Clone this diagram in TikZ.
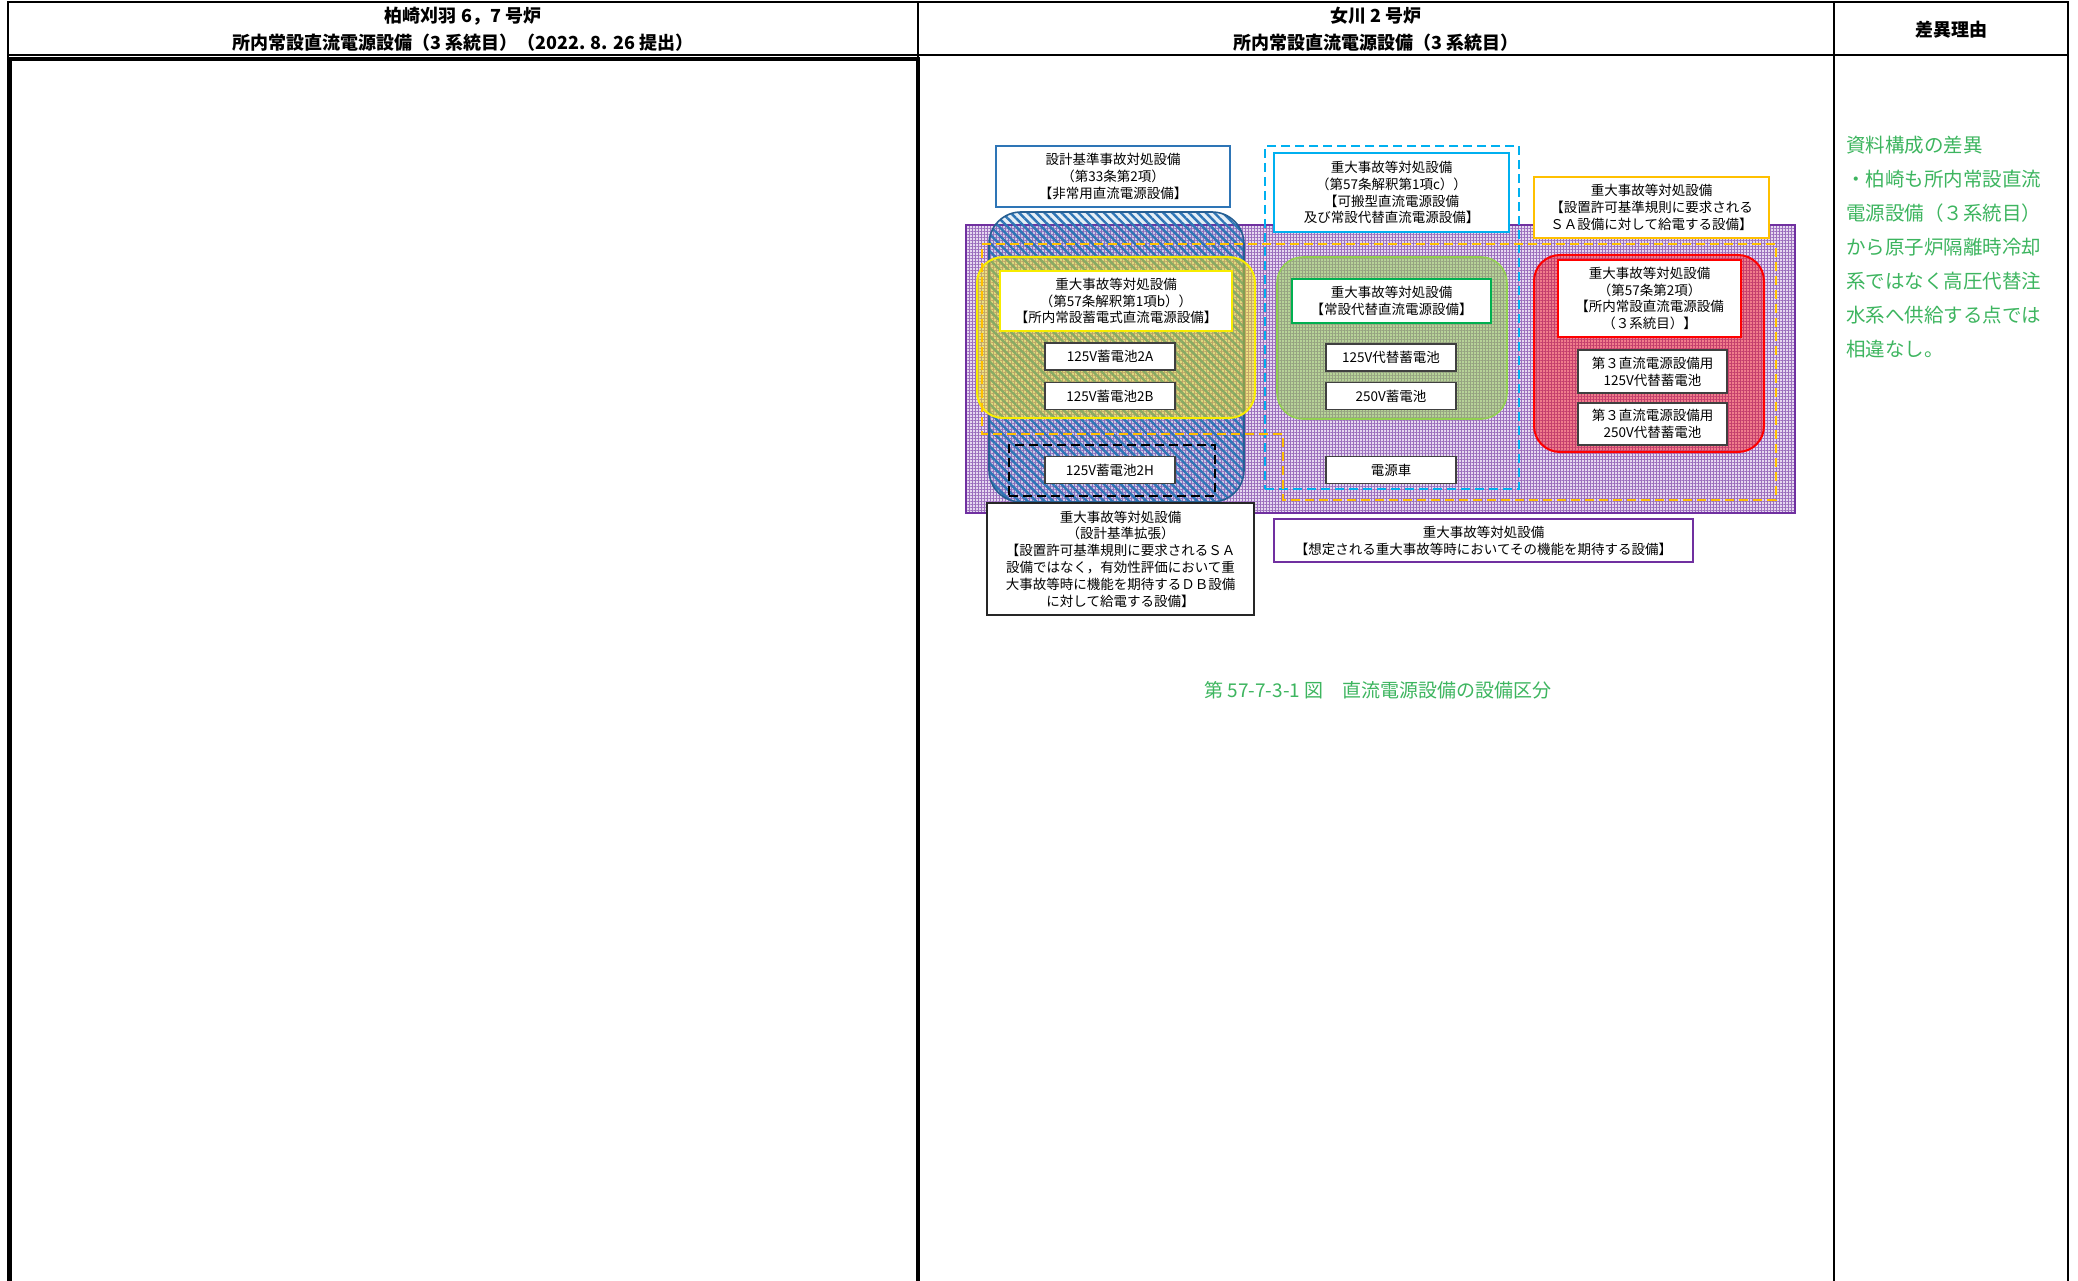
\documentclass[tikz,border=0pt]{standalone}
\usepackage{fontspec}
\setmainfont{Noto Sans CJK JP}
\usetikzlibrary{patterns.meta}

\definecolor{sapurple}{HTML}{7030A0}
\definecolor{lavender}{HTML}{E6D8F0}
\definecolor{dbblue}{HTML}{2E75B6}
\definecolor{pcyan}{HTML}{00B0F0}
\definecolor{saorange}{HTML}{FFC000}
\definecolor{sayellow}{HTML}{F7EC00}
\definecolor{sgreen}{HTML}{00B050}
\definecolor{lgreen}{HTML}{92D050}
\definecolor{capgreen}{HTML}{3DB55F}

\newcommand{\dtxt}{\fontsize{13.5}{16.8}\selectfont}
\newcommand{\htxt}{\fontsize{18}{22}\selectfont\bfseries}
\newcommand{\gtxt}{\fontsize{19.5}{34}\selectfont}

\begin{document}
\begin{tikzpicture}[x=1pt,y=-1pt,align=center,
  lbl/.style={draw, fill=white, line width=2pt, inner sep=0pt, font=\dtxt},
  item/.style={draw=black!75, fill=white, line width=1.4pt, inner sep=0pt, font=\dtxt,
    minimum width=130pt, minimum height=27pt},
  grp/.style={inner sep=0pt, line width=1.6pt, rounded corners=26pt},
  zone/.style={inner sep=0pt, line width=2pt, dash pattern=on 9pt off 5pt},
  note/.style={text=capgreen}]

\useasboundingbox (0,0) rectangle (2078,1281);
\fill[white] (0,0) rectangle (2078,1281);

% table frame
\draw[line width=1.2pt] (8,1290) -- (8,2) -- (2068,2) -- (2068,1290);
\draw[line width=1.2pt] (8,55) -- (2068,55);
\draw[line width=1.2pt] (1834,2) -- (1834,1290);
\draw[line width=4pt] (10,1290) -- (10,59) -- (918,59) -- (918,1290);
\draw[line width=1.2pt] (918,2) -- (918,59);

\node[font=\htxt] (hkk1) at (463,16) {柏崎刈羽 6，7 号炉};
\node[font=\htxt] (hkk2) at (463,43) {所内常設直流電源設備（3 系統目）（2022. 8. 26 提出）};
\node[font=\htxt] (hon1) at (1376,16) {女川 2 号炉};
\node[font=\htxt] (hon2) at (1376,43) {所内常設直流電源設備（3 系統目）};
\node[font=\htxt] (hdiff) at (1951,30) {差異理由};

% regions
\node[inner sep=0pt, draw=sapurple, line width=2pt, minimum width=829pt, minimum height=288pt,
  preaction={fill=lavender},
  pattern={Hatch[angle=0,distance=3pt,line width=0.8pt]}, pattern color=sapurple!70] (sazone) at (1380.5,369) {};
\node[grp, rounded corners=32pt, draw=dbblue!80!black, minimum width=255pt, minimum height=290pt,
  preaction={fill=dbblue, fill opacity=0.12}, fill opacity=0.6,
  pattern={Lines[angle=-45,distance=6pt,line width=2.4pt]}, pattern color=dbblue] (dbgrp) at (1116.5,357) {};
\node[grp, draw=sayellow, line width=2pt, fill=sayellow, fill opacity=0.45,
  minimum width=278pt, minimum height=161pt] (batgrp) at (1116,337.5) {};
\node[grp, draw=lgreen, fill=lgreen, fill opacity=0.55,
  minimum width=230pt, minimum height=162pt] (altgrp) at (1392,338) {};
\node[grp, draw=red, line width=2pt, fill=red, fill opacity=0.42,
  minimum width=230pt, minimum height=197pt] (thirdgrp) at (1649,353.5) {};

\node[zone, draw=pcyan, minimum width=254pt, minimum height=343pt] (portzone) at (1392,317.5) {};
\draw[zone, draw=saorange] (982,244) -- (1776,244) -- (1776,500) -- (1283,500) -- (1283,434) -- (982,434) -- cycle;
\node[zone, draw=black, minimum width=206pt, minimum height=51pt] (extzone) at (1112,470.5) {};

% labels
\node[lbl, draw=dbblue, minimum width=234pt, minimum height=61pt] (dblbl) at (1113,176.5)
  {設計基準事故対処設備\\（第33条第2項）\\【非常用直流電源設備】};
\node[lbl, draw=pcyan, line width=2.5pt, minimum width=235pt, minimum height=79pt] (portlbl) at (1391.5,192.5)
  {重大事故等対処設備\\（第57条解釈第1項c））\\【可搬型直流電源設備\\及び常設代替直流電源設備】};
\node[lbl, draw=saorange, minimum width=235pt, minimum height=61pt] (salbl) at (1651.5,207.5)
  {重大事故等対処設備\\【設置許可基準規則に要求される\\ＳＡ設備に対して給電する設備】};
\node[lbl, draw=sayellow, line width=2.5pt, minimum width=232pt, minimum height=60pt] (batlbl) at (1116,301)
  {重大事故等対処設備\\（第57条解釈第1項b））\\【所内常設蓄電式直流電源設備】};
\node[lbl, draw=sgreen, minimum width=199pt, minimum height=44pt] (altlbl) at (1391.5,301)
  {重大事故等対処設備\\【常設代替直流電源設備】};
\node[lbl, draw=red, minimum width=183pt, minimum height=77pt] (thirdlbl) at (1649.5,298.5)
  {重大事故等対処設備\\（第57条第2項）\\【所内常設直流電源設備\\（３系統目）】};
\node[lbl, draw=black!85, minimum width=267pt, minimum height=112pt] (extlbl) at (1120.5,559)
  {重大事故等対処設備\\（設計基準拡張）\\【設置許可基準規則に要求されるＳＡ\\設備ではなく，有効性評価において重\\大事故等時に機能を期待するＤＢ設備\\に対して給電する設備】};
\node[lbl, draw=sapurple, minimum width=419pt, minimum height=43pt] (salbl2) at (1483.5,540.5)
  {重大事故等対処設備\\【想定される重大事故等時においてその機能を期待する設備】};

% batteries
\node[item] (bat2a) at (1110,356.5) {125V蓄電池2A};
\node[item] (bat2b) at (1110,396) {125V蓄電池2B};
\node[item] (bat2h) at (1110,470) {125V蓄電池2H};
\node[item] (alt125) at (1391,357.5) {125V代替蓄電池};
\node[item] (bat250) at (1391,396) {250V蓄電池};
\node[item] (pwrcar) at (1391,470) {電源車};
\node[item, minimum width=149pt, minimum height=43pt] (third125) at (1652.5,371.5) {第３直流電源設備用\\125V代替蓄電池};
\node[item, minimum width=149pt, minimum height=42pt] (third250) at (1652.5,424) {第３直流電源設備用\\250V代替蓄電池};

\node[note, font=\fontsize{19}{22}\selectfont] (caption) at (1378,690) {第 57-7-3-1 図　直流電源設備の設備区分};

\node[note, font=\gtxt, align=left, anchor=north west, inner sep=0pt] (reason) at (1846,136)
  {資料構成の差異\\・柏崎も所内常設直流\\電源設備（３系統目）\\から原子炉隔離時冷却\\系ではなく高圧代替注\\水系へ供給する点では\\相違なし。};

\end{tikzpicture}
\end{document}
